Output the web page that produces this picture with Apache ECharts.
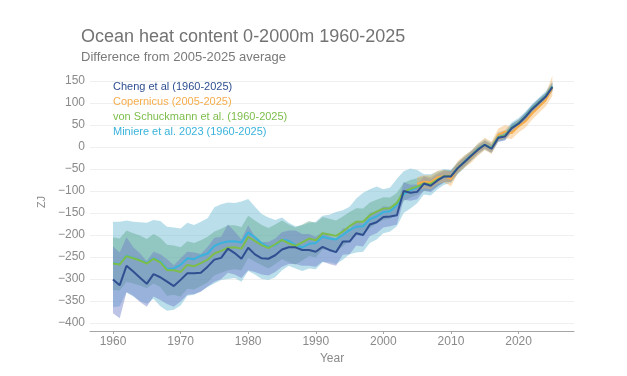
<!DOCTYPE html>
<html>
<head>
<meta charset="utf-8">
<script src="https://cdn.jsdelivr.net/npm/echarts@6/dist/echarts.min.js"></script>
<style>
  html, body { margin: 0; padding: 0; background: #fff; }
  #main { width: 627px; height: 376px; }
</style>
</head>
<body>
<div id="main"></div>
<script>
// years on the x axis
var years = [1960, 1961, 1962, 1963, 1964, 1965, 1966, 1967, 1968, 1969,
  1970, 1971, 1972, 1973, 1974, 1975, 1976, 1977, 1978, 1979,
  1980, 1981, 1982, 1983, 1984, 1985, 1986, 1987, 1988, 1989,
  1990, 1991, 1992, 1993, 1994, 1995, 1996, 1997, 1998, 1999,
  2000, 2001, 2002, 2003, 2004, 2005, 2006, 2007, 2008, 2009,
  2010, 2011, 2012, 2013, 2014, 2015, 2016, 2017, 2018, 2019,
  2020, 2021, 2022, 2023, 2024, 2025];
var copYears = [2005, 2006, 2007, 2008, 2009, 2010, 2011, 2012, 2013, 2014,
  2015, 2016, 2017, 2018, 2019, 2020, 2021, 2022, 2023, 2024, 2025];
var yearTicks = [1960, 1970, 1980, 1990, 2000, 2010, 2020];

// Cheng et al
var cheng = [-301, -314, -270, -283, -297, -311, -289, -296, -306, -316,
  -302, -287, -287, -286, -272, -256, -252, -231, -241, -254,
  -229, -244, -253, -254, -246, -233, -228, -228, -234, -234,
  -238, -227, -234, -239, -215, -215, -196, -200, -176, -171,
  -159, -158, -155, -100, -104, -102, -83, -88, -76, -67,
  -67, -48, -34, -20, -6, 5, -4, 21, 24, 43,
  53, 68, 86, 100, 114, 136];
var chengLow = [-378, -389, -330, -338, -352, -363, -340, -348, -357, -363,
  -351, -336, -334, -329, -317, -306, -300, -286, -290, -298,
  -280, -284, -290, -292, -284, -272, -266, -266, -270, -270,
  -272, -260, -266, -270, -245, -244, -224, -226, -202, -196,
  -183, -180, -176, -120, -122, -119, -99, -103, -90, -80,
  -79, -59, -44, -30, -15, -4, -13, 12, 15, 34,
  44, 59, 77, 91, 105, 126];
var chengHigh = [-226, -240, -205, -228, -242, -259, -238, -244, -255, -269,
  -253, -238, -240, -243, -227, -206, -204, -176, -192, -210,
  -178, -204, -216, -216, -208, -194, -190, -190, -198, -198,
  -204, -194, -202, -208, -185, -186, -168, -174, -150, -146,
  -135, -136, -134, -80, -86, -85, -67, -73, -62, -54,
  -55, -37, -24, -10, 3, 14, 5, 30, 33, 52,
  62, 77, 95, 109, 123, 146];

// Copernicus
var cop = [-84, -79, -80, -69, -66, -73, -46, -33, -22, -6,
  7, -2, 28, 35, 32, 47, 58, 76, 91, 106, 134];
var copLow = [-100, -94, -96, -84, -80, -90, -60, -47, -36, -20,
  -7, -16, 14, 20, 18, 33, 44, 62, 77, 92, 116];
var copHigh = [-68, -64, -64, -54, -52, -56, -32, -19, -8, 8,
  21, 12, 42, 50, 46, 61, 72, 90, 105, 120, 162];

// von Schuckmann et al.
var vs = [-265, -267, -248, -253, -258, -265, -254, -262, -280, -280,
  -284, -268, -271, -264, -256, -242, -236, -229, -228, -231,
  -204, -214, -223, -230, -221, -211, -219, -225, -217, -208,
  -212, -196, -199, -202, -192, -180, -170, -170, -155, -147,
  -140, -139, -127, -102, -95, -90, -83, -84, -74, -66,
  -66, -48, -34, -20, -5, 5, -3, 22, 26, 44,
  54, 69, 87, 101, 115, 137];
var vsLow = [-325, -326, -306, -310, -315, -321, -310, -318, -338, -336,
  -340, -322, -324, -316, -308, -292, -286, -280, -278, -280,
  -252, -261, -269, -276, -266, -255, -262, -267, -258, -248,
  -251, -233, -235, -237, -226, -212, -201, -200, -184, -174,
  -166, -163, -150, -123, -115, -109, -100, -100, -89, -80,
  -79, -60, -45, -30, -14, -4, -12, 14, 18, 36,
  46, 61, 79, 93, 107, 128];
var vsHigh = [-205, -208, -190, -196, -201, -209, -198, -206, -222, -224,
  -228, -214, -218, -212, -204, -192, -186, -178, -178, -182,
  -156, -167, -177, -184, -176, -167, -176, -183, -176, -168,
  -173, -159, -163, -167, -158, -148, -139, -140, -126, -120,
  -114, -115, -104, -81, -75, -71, -66, -68, -59, -52,
  -53, -36, -23, -10, 4, 14, 6, 30, 34, 52,
  62, 77, 95, 109, 123, 146];

// Miniere et al. 2023
var mi = [-264, -266, -247, -252, -257, -264, -253, -260, -277, -276,
  -268, -253, -255, -247, -242, -225, -218, -215, -214, -217,
  -194, -205, -219, -227, -223, -211, -213, -223, -228, -220,
  -218, -204, -208, -210, -200, -189, -181, -180, -164, -158,
  -148, -146, -132, -107, -98, -92, -84, -86, -75, -67,
  -66, -47, -33, -19, -4, 6, -2, 23, 27, 45,
  55, 70, 88, 102, 116, 138];
var miLow = [-364, -362, -330, -340, -350, -356, -345, -362, -372, -370,
  -360, -338, -336, -328, -318, -310, -302, -300, -298, -306,
  -282, -290, -300, -302, -296, -280, -270, -276, -282, -276,
  -278, -262, -262, -266, -256, -244, -240, -238, -218, -210,
  -196, -192, -180, -150, -140, -128, -108, -110, -96, -86,
  -82, -62, -48, -32, -18, -6, -14, 12, 16, 34,
  44, 60, 78, 92, 106, 128];
var miHigh = [-170, -170, -167, -170, -171, -172, -166, -168, -181, -183,
  -185, -172, -177, -170, -162, -137, -130, -126, -127, -124,
  -118, -136, -152, -160, -166, -160, -172, -180, -178, -172,
  -170, -156, -154, -148, -144, -136, -117, -104, -96, -90,
  -96, -92, -72, -55, -49, -52, -62, -62, -55, -50,
  -52, -34, -20, -8, 8, 18, 10, 34, 38, 56,
  66, 80, 98, 112, 126, 150];

var chart = echarts.init(document.getElementById('main'), null, { renderer: 'canvas' });

function pairs(xs, ys) {
  return xs.map(function (x, i) { return [x, ys[i]]; });
}

// uncertainty range: one polygon, upper edge then lower edge backwards
function band(xs, lo, hi, color) {
  return {
    type: 'custom',
    silent: true,
    z: 1,
    data: xs.map(function (x, i) { return [x, lo[i], hi[i]]; }),
    encode: { x: 0, y: [1, 2] },
    renderItem: function (params, api) {
      if (params.dataIndex !== 0) return null;
      var top = [], bottom = [];
      for (var i = 0; i < xs.length; i++) {
        top.push(api.coord([xs[i], hi[i]]));
        bottom.unshift(api.coord([xs[i], lo[i]]));
      }
      return {
        type: 'polygon',
        shape: { points: top.concat(bottom) },
        style: { fill: color }
      };
    }
  };
}

function line(name, xs, ys, color) {
  return {
    name: name, type: 'line', data: pairs(xs, ys), symbol: 'none',
    clip: false, z: 3, color: color,
    lineStyle: { color: color, width: 2 }
  };
}

var names = ['Cheng et al (1960-2025)', 'Copernicus (2005-2025)',
  'von Schuckmann et al. (1960-2025)', 'Miniere et al. 2023 (1960-2025)'];
var colors = ['#2f4f91', '#f6ad4c', '#7dbd4c', '#3ab3dc'];

var series = [
  band(years, miLow, miHigh, 'rgba(118,192,216,0.5)'),
  band(years, vsLow, vsHigh, 'rgba(90,165,135,0.42)'),
  band(years, chengLow, chengHigh, 'rgba(110,125,200,0.45)'),
  band(copYears, copLow, copHigh, 'rgba(246,176,90,0.4)'),
  line(names[1], copYears, cop, colors[1]),
  line(names[3], years, mi, colors[3]),
  line(names[2], years, vs, colors[2]),
  line(names[0], years, cheng, colors[0])
];

var option = {
  animation: false,
  backgroundColor: '#ffffff',
  title: [{
    text: 'Ocean heat content 0-2000m 1960-2025',
    left: 76, top: 23,
    textStyle: { fontFamily: 'Liberation Sans', fontSize: 18, fontWeight: 'normal', color: '#737373' }
  }, {
    text: 'Difference from 2005-2025 average',
    left: 76, top: 46,
    textStyle: { fontFamily: 'Liberation Sans', fontSize: 13, fontWeight: 'normal', color: '#7a7a7a' }
  }],
  legend: {
    orient: 'vertical',
    left: 103, top: 74,
    itemWidth: 0, itemHeight: 15, itemGap: 0,
    icon: 'rect',
    selectedMode: false,
    textStyle: { fontFamily: 'Liberation Sans', fontSize: 11 },
    data: names.map(function (n, i) {
      return { name: n, textStyle: { color: colors[i] } };
    })
  },
  grid: { left: 90, right: 53, top: 81, bottom: 53 },
  xAxis: {
    type: 'value',
    min: 1956.6, max: 2028.2,
    offset: 8,
    name: 'Year', nameLocation: 'middle', nameGap: 14,
    nameTextStyle: { fontFamily: 'Liberation Sans', fontSize: 12, color: '#8a8a8a' },
    axisLine: { onZero: false, lineStyle: { color: '#a6a6a6' } },
    axisTick: { customValues: yearTicks, length: 3, lineStyle: { color: '#a6a6a6' } },
    axisLabel: {
      customValues: yearTicks, margin: 5,
      fontFamily: 'Liberation Sans', fontSize: 12, color: '#8a8a8a',
      formatter: function (v) { return String(v); }
    },
    splitLine: { show: false }
  },
  yAxis: {
    type: 'value',
    min: -400, max: 150, interval: 50,
    name: 'ZJ', nameLocation: 'middle', nameGap: 42,
    nameTextStyle: { fontFamily: 'Liberation Sans', fontSize: 11, color: '#8a8a8a' },
    axisLine: { show: false },
    axisTick: { show: false },
    axisLabel: {
      margin: 5, fontFamily: 'Liberation Sans', fontSize: 12, color: '#8a8a8a',
      formatter: function (v) { return String(v).replace('-', '\u2212'); }
    },
    splitLine: { lineStyle: { color: '#efefef', width: 1 } }
  },
  series: series
};

chart.setOption(option);
</script>
</body>
</html>
